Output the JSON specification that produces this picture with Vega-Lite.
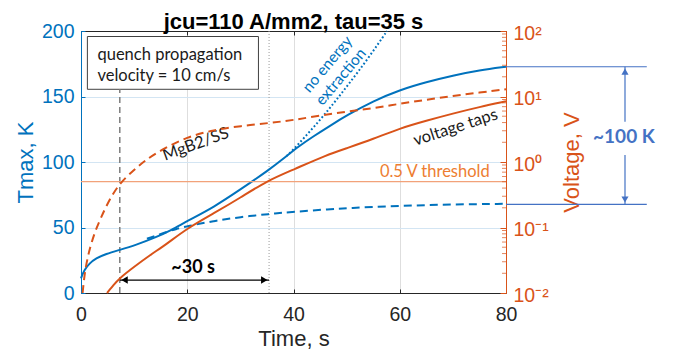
{
  "$schema": "https://vega.github.io/schema/vega-lite/v6.json",
  "width": 425,
  "height": 262,
  "autosize": {"type": "none"},
  "padding": {"left": 81, "top": 31, "right": 172, "bottom": 62},
  "background": "white",
  "title": {"text": "jcu=110 A/mm2, tau=35 s", "font": "Liberation Sans", "fontSize": 22, "fontWeight": "bold", "color": "#000000", "anchor": "middle", "frame": "group", "offset": 4, "dy": 17},
  "config": {"view": {"stroke": null}},
  "datasets": {
    "tmax": [
      {"t": 0, "T": 11.2}, {"t": 0.6, "T": 17.6}, {"t": 1.6, "T": 22.6}, {"t": 2.8, "T": 26.5}, {"t": 4.7, "T": 29.8},
      {"t": 7.2, "T": 32.8}, {"t": 10.3, "T": 36.6}, {"t": 14.1, "T": 42.5}, {"t": 17, "T": 48}, {"t": 20, "T": 55},
      {"t": 25, "T": 65.5}, {"t": 30, "T": 79}, {"t": 35.4, "T": 94}, {"t": 38.7, "T": 104.5}, {"t": 41, "T": 112},
      {"t": 43.7, "T": 119.5}, {"t": 47, "T": 128}, {"t": 50, "T": 135.5}, {"t": 55, "T": 146.5}, {"t": 60, "T": 155},
      {"t": 65, "T": 161}, {"t": 70, "T": 166}, {"t": 75, "T": 170}, {"t": 80, "T": 172.7}
    ],
    "noext": [
      {"t": 38.7, "T": 104.5}, {"t": 40, "T": 109.5}, {"t": 42, "T": 118.5}, {"t": 44, "T": 127.5}, {"t": 46, "T": 137},
      {"t": 48, "T": 147}, {"t": 50, "T": 157.5}, {"t": 52, "T": 168}, {"t": 54, "T": 179}, {"t": 56, "T": 190.5}, {"t": 57.6, "T": 200}
    ],
    "mgbT": [
      {"t": 12.4, "T": 41.5}, {"t": 14, "T": 43.5}, {"t": 16, "T": 46.5}, {"t": 18, "T": 49}, {"t": 20, "T": 51},
      {"t": 25, "T": 55}, {"t": 30, "T": 58}, {"t": 35.4, "T": 60.3}, {"t": 40, "T": 62}, {"t": 47, "T": 64},
      {"t": 50, "T": 64.8}, {"t": 60, "T": 66.6}, {"t": 70, "T": 67.6}, {"t": 80, "T": 68.1}
    ],
    "taps": [
      {"t": 4.9, "V": 0.01}, {"t": 5.5, "V": 0.01148}, {"t": 6, "V": 0.01288}, {"t": 7.2, "V": 0.01675}, {"t": 10, "V": 0.02512},
      {"t": 13, "V": 0.03802}, {"t": 16, "V": 0.05495}, {"t": 20, "V": 0.09727}, {"t": 25, "V": 0.1644}, {"t": 30, "V": 0.285},
      {"t": 35, "V": 0.515}, {"t": 40, "V": 0.7651}, {"t": 46.2, "V": 1.276}, {"t": 50, "V": 1.622}, {"t": 55, "V": 2.239},
      {"t": 60, "V": 3.266}, {"t": 65, "V": 4.266}, {"t": 70, "V": 5.495}, {"t": 75, "V": 6.918}, {"t": 80, "V": 8.433}
    ],
    "mgbV": [
      {"t": 0.3, "V": 0.01}, {"t": 0.5, "V": 0.01445}, {"t": 0.8, "V": 0.02249}, {"t": 1.2, "V": 0.0331}, {"t": 1.6, "V": 0.04571},
      {"t": 2.5, "V": 0.08166}, {"t": 3.8, "V": 0.1445}, {"t": 5.3, "V": 0.263}, {"t": 7.3, "V": 0.4786}, {"t": 10, "V": 0.7586},
      {"t": 12, "V": 1.047}, {"t": 15, "V": 1.514}, {"t": 20, "V": 2.432}, {"t": 25, "V": 3.076}, {"t": 30, "V": 3.548},
      {"t": 35.6, "V": 3.945}, {"t": 40, "V": 4.365}, {"t": 45, "V": 5.129}, {"t": 50, "V": 5.888}, {"t": 55, "V": 6.607},
      {"t": 60, "V": 7.762}, {"t": 65, "V": 8.913}, {"t": 70, "V": 10.23}, {"t": 75, "V": 11.48}, {"t": 80, "V": 12.88}
    ],
    "minor": [
      {"t": 80, "V": 0.02}, {"t": 80, "V": 0.03}, {"t": 80, "V": 0.04}, {"t": 80, "V": 0.05}, {"t": 80, "V": 0.06}, {"t": 80, "V": 0.07}, {"t": 80, "V": 0.08}, {"t": 80, "V": 0.09},
      {"t": 80, "V": 0.2}, {"t": 80, "V": 0.3}, {"t": 80, "V": 0.4}, {"t": 80, "V": 0.5}, {"t": 80, "V": 0.6}, {"t": 80, "V": 0.7}, {"t": 80, "V": 0.8}, {"t": 80, "V": 0.9},
      {"t": 80, "V": 2}, {"t": 80, "V": 3}, {"t": 80, "V": 4}, {"t": 80, "V": 5}, {"t": 80, "V": 6}, {"t": 80, "V": 7}, {"t": 80, "V": 8}, {"t": 80, "V": 9},
      {"t": 80, "V": 20}, {"t": 80, "V": 30}, {"t": 80, "V": 40}, {"t": 80, "V": 50}, {"t": 80, "V": 60}, {"t": 80, "V": 70}, {"t": 80, "V": 80}, {"t": 80, "V": 90}
    ]
  },
  "layer": [
    {
      "encoding": {
        "x": {"field": "t", "type": "quantitative", "scale": {"domain": [0, 80], "nice": false, "zero": false},
          "axis": {"orient": "bottom", "title": "Time, s", "values": [0, 20, 40, 60, 80], "labelFlush": false, "labelOverlap": false,
            "domainColor": "#262626", "domainWidth": 1, "tickColor": "#262626", "tickSize": -4, "tickWidth": 1,
            "labelColor": "#262626", "labelFont": "Liberation Sans", "labelFontSize": 19.5, "labelPadding": 31, "labelBaseline": "alphabetic",
            "grid": true, "gridColor": "#dedede", "gridWidth": 1,
            "titleColor": "#262626", "titleFont": "Liberation Sans", "titleFontSize": 22, "titleFontWeight": "normal", "titleBaseline": "alphabetic", "titleY": 52}},
        "y": {"field": "T", "type": "quantitative", "scale": {"domain": [0, 200], "nice": false, "zero": false},
          "axis": {"orient": "left", "title": "Tmax, K", "values": [0, 50, 100, 150, 200], "labelFlush": false, "labelOverlap": false,
            "domainColor": "#0072BD", "domainWidth": 1, "tickColor": "#0072BD", "tickSize": -4, "tickWidth": 1,
            "labelColor": "#0072BD", "labelFont": "Liberation Sans", "labelFontSize": 19.5, "labelPadding": 11,
            "grid": true, "gridColor": "#d3e5f3", "gridWidth": 1,
            "titleColor": "#0072BD", "titleFont": "Liberation Sans", "titleFontSize": 22, "titleFontWeight": "normal", "titleAngle": -90, "titleBaseline": "alphabetic", "titleX": -49, "titleY": 131}}
      },
      "layer": [
        {"data": {"values": [{"t": 1.2, "t2": 33.4, "T": 155.5, "T2": 195.8}]},
         "mark": {"type": "rect", "fill": "white", "stroke": "#404040", "strokeWidth": 1},
         "encoding": {"x2": {"field": "t2"}, "y2": {"field": "T2"}}},
        {"data": {"values": [{"t": 3.1, "T": 181.7, "label": "quench propagation"}, {"t": 3.1, "T": 165.8, "label": "velocity = 10 cm/s"}]},
         "mark": {"type": "text", "align": "left", "baseline": "middle", "font": "Lato", "fontSize": 16.5, "color": "#1a1a1a"},
         "encoding": {"text": {"field": "label"}}},
        {"data": {"values": [{"t": 7.3, "T": 0, "T2": 155.5}]},
         "mark": {"type": "rule", "color": "#7f7f7f", "strokeWidth": 1.5, "strokeDash": [6, 4]},
         "encoding": {"y2": {"field": "T2"}}},
        {"data": {"values": [{"t": 35.4, "T": 0, "T2": 200}]},
         "mark": {"type": "rule", "color": "#9a9a9a", "strokeWidth": 1, "strokeDash": [1, 2]},
         "encoding": {"y2": {"field": "T2"}}},
        {"data": {"name": "mgbT"}, "mark": {"type": "line", "color": "#0072BD", "strokeWidth": 2, "strokeDash": [8, 5], "interpolate": "basis"}, "encoding": {}},
        {"data": {"name": "noext"}, "mark": {"type": "line", "color": "#0072BD", "strokeWidth": 2, "strokeDash": [1.8, 2.2], "interpolate": "basis"}, "encoding": {}},
        {"data": {"name": "tmax"}, "mark": {"type": "line", "color": "#0072BD", "strokeWidth": 2, "interpolate": "basis"}, "encoding": {}},
        {"data": {"values": [{"t": 7.3, "t2": 35.4, "T": 9.9}]},
         "mark": {"type": "rule", "color": "#000000", "strokeWidth": 1.2},
         "encoding": {"x2": {"field": "t2"}}},
        {"data": {"values": [{"t": 8.2, "T": 9.9}]},
         "mark": {"type": "point", "shape": "triangle-left", "filled": true, "color": "#000000", "size": 55, "opacity": 1}, "encoding": {}},
        {"data": {"values": [{"t": 34.5, "T": 9.9}]},
         "mark": {"type": "point", "shape": "triangle-right", "filled": true, "color": "#000000", "size": 55, "opacity": 1}, "encoding": {}},
        {"data": {"values": [{"t": 21.1, "T": 19.3, "label": "~30 s"}]},
         "mark": {"type": "text", "align": "center", "baseline": "middle", "font": "Lato", "fontWeight": "bold", "fontSize": 18, "color": "#000000"},
         "encoding": {"text": {"field": "label"}}},
        {"data": {"values": [{"t": 21.6, "T": 113.5, "label": "MgB2/SS"}]},
         "mark": {"type": "text", "align": "center", "baseline": "middle", "font": "Lato", "fontSize": 16.5, "angle": -20, "color": "#1a1a1a"},
         "encoding": {"text": {"field": "label"}}},
        {"data": {"values": [{"t": 70.5, "T": 126.3, "label": "voltage taps"}]},
         "mark": {"type": "text", "align": "center", "baseline": "middle", "font": "Lato", "fontSize": 16.5, "angle": -18, "color": "#1a1a1a"},
         "encoding": {"text": {"field": "label"}}},
        {"data": {"values": [{"t": 46.4, "T": 174.7, "label": "no energy"}, {"t": 48.9, "T": 165.1, "label": "extraction"}]},
         "mark": {"type": "text", "align": "center", "baseline": "middle", "font": "Lato", "fontSize": 15.5, "angle": -50, "color": "#0072BD"},
         "encoding": {"text": {"field": "label"}}},
        {"data": {"values": [{"t": 66.6, "T": 92.6, "label": "0.5 V threshold"}]},
         "mark": {"type": "text", "align": "center", "baseline": "middle", "font": "Lato", "fontSize": 16.5, "color": "#ED7D31"},
         "encoding": {"text": {"field": "label"}}},
        {"data": {"values": [{"t": 80, "t2": 106.5, "T": 172.7}, {"t": 80, "t2": 106.5, "T": 67.7}]},
         "mark": {"type": "rule", "color": "#4472C4", "strokeWidth": 1.2},
         "encoding": {"x2": {"field": "t2"}}},
        {"data": {"values": [{"t": 102.4, "T": 130.8, "T2": 172.7}, {"t": 102.4, "T": 67.7, "T2": 105.3}]},
         "mark": {"type": "rule", "color": "#4472C4", "strokeWidth": 1.2},
         "encoding": {"y2": {"field": "T2"}}},
        {"data": {"values": [{"t": 102.4, "T": 169}]},
         "mark": {"type": "point", "shape": "triangle-up", "filled": true, "color": "#4472C4", "size": 50, "opacity": 1}, "encoding": {}},
        {"data": {"values": [{"t": 102.4, "T": 71.4}]},
         "mark": {"type": "point", "shape": "triangle-down", "filled": true, "color": "#4472C4", "size": 50, "opacity": 1}, "encoding": {}},
        {"data": {"values": [{"t": 102.2, "T": 119, "label": "~100 K"}]},
         "mark": {"type": "text", "align": "center", "baseline": "middle", "font": "Lato", "fontWeight": "bold", "fontSize": 19, "color": "#4472C4"},
         "encoding": {"text": {"field": "label"}}}
      ]
    },
    {
      "encoding": {
        "x": {"field": "t", "type": "quantitative", "scale": {"domain": [0, 80], "nice": false, "zero": false},
          "axis": {"orient": "top", "title": null, "labels": false, "values": [0, 20, 40, 60, 80], "grid": false,
            "domainColor": "#262626", "domainWidth": 1, "tickColor": "#262626", "tickSize": -4, "tickWidth": 1}},
        "y": {"field": "V", "type": "quantitative", "scale": {"type": "log", "domain": [0.01, 100], "nice": false},
          "axis": {"orient": "right", "title": "Voltage, V", "values": [0.01, 0.1, 1, 10, 100], "grid": false, "labelFlush": false, "labelOverlap": false,
            "labelExpr": "datum.value >= 99 ? '10²' : datum.value >= 9 ? '10¹' : datum.value >= 0.9 ? '10⁰' : datum.value >= 0.09 ? '10⁻¹' : '10⁻²'",
            "domainColor": "#D95319", "domainWidth": 1, "tickColor": "#D95319", "tickSize": -6, "tickWidth": 1,
            "labelColor": "#D95319", "labelFont": "Liberation Sans", "labelFontSize": 19.5, "labelPadding": 13, "labelOffset": 2,
            "titleColor": "#D95319", "titleFont": "Liberation Sans", "titleFontSize": 22, "titleFontWeight": "normal", "titleAngle": -90, "titleBaseline": "alphabetic", "titleX": 72, "titleY": 131}}
      },
      "layer": [
        {"data": {"values": [{"t": 0, "t2": 80, "V": 0.5}]},
         "mark": {"type": "rule", "color": "#F2A27A", "strokeWidth": 1.2},
         "encoding": {"x2": {"field": "t2"}}},
        {"data": {"name": "mgbV"}, "mark": {"type": "line", "color": "#D95319", "strokeWidth": 2, "strokeDash": [8, 5], "interpolate": "basis"}, "encoding": {}},
        {"data": {"name": "taps"}, "mark": {"type": "line", "color": "#D95319", "strokeWidth": 2, "interpolate": "basis"}, "encoding": {}},
        {"data": {"name": "minor"}, "mark": {"type": "tick", "orient": "horizontal", "color": "#D95319", "size": 4, "thickness": 1, "xOffset": -2}, "encoding": {}}
      ]
    }
  ],
  "resolve": {"scale": {"x": "independent", "y": "independent"}}
}
